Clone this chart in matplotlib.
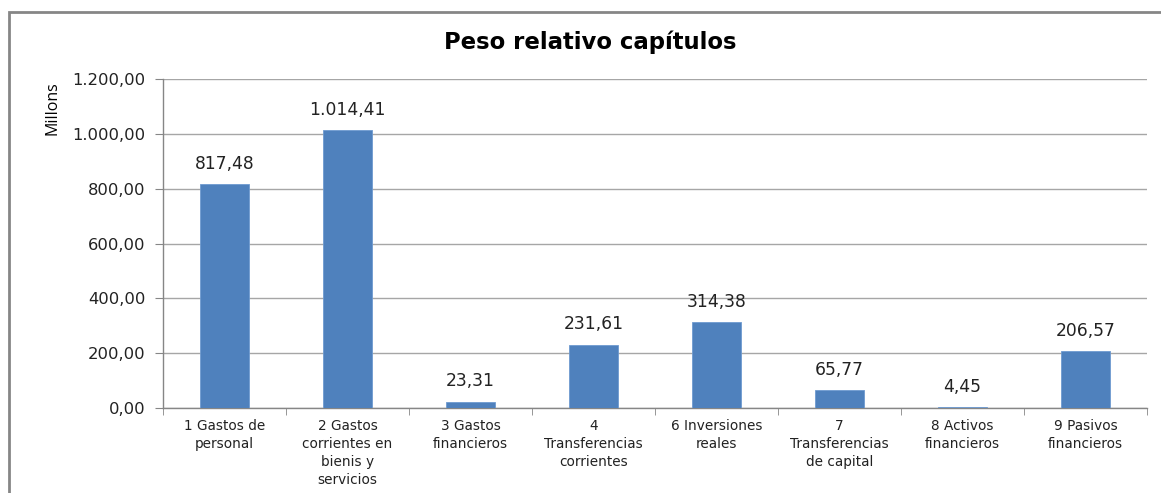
import matplotlib
matplotlib.use("Agg")
import matplotlib.pyplot as plt
from matplotlib.patches import Rectangle

categories = ["1 Gastos de\npersonal", "2 Gastos\ncorrientes en\nbienis y\nservicios",
              "3 Gastos\nfinancieros", "4\nTransferencias\ncorrientes",
              "6 Inversiones\nreales", "7\nTransferencias\nde capital",
              "8 Activos\nfinancieros", "9 Pasivos\nfinancieros"]
values = [817.48, 1014.41, 23.31, 231.61, 314.38, 65.77, 4.45, 206.57]
yticks = [0, 200, 400, 600, 800, 1000, 1200]

def fmt(v):
    s = f"{v:,.2f}"
    return s.replace(",", "X").replace(".", ",").replace("X", ".")

plt.rcParams['font.family'] = ['DejaVu Sans']

W, H = 1161, 493
fig = plt.figure(figsize=(W/100, H/100), dpi=100)
fig.patch.set_facecolor("white")

left, right, top, bottom = 163, 1147, 79, 408
ax = fig.add_axes([left/W, 1-bottom/H, (right-left)/W, (bottom-top)/H])

x = list(range(len(values)))
ax.bar(x, values, width=0.4, color="#4F81BD", edgecolor="#6F9BD0", linewidth=0.6, zorder=3)
ax.set_xlim(-0.5, len(values)-0.5)
ax.set_ylim(0, 1200)
ax.set_yticks(yticks)
ax.set_yticklabels([fmt(v) for v in yticks], fontsize=11.8, color="#222222")
ax.yaxis.grid(True, color="#A6A6A6", linewidth=1.0, zorder=0)
ax.set_axisbelow(True)

ax.set_xticks(x)
ax.set_xticklabels(categories, fontsize=9.8, color="#222222", linespacing=1.35)
ax.tick_params(axis="x", length=0, pad=8)
ax.set_xticks([i + 0.5 for i in range(-1, len(values))], minor=True)
ax.tick_params(axis="x", which="minor", length=5, color="#868686")
ax.tick_params(axis="y", length=5.5, color="#868686", pad=7)

for s in ["top", "right"]:
    ax.spines[s].set_visible(False)
for s in ["left", "bottom"]:
    ax.spines[s].set_color("#868686")
    ax.spines[s].set_linewidth(1.0)

for xi, v in zip(x, values):
    ax.annotate(fmt(v), (xi, v), xytext=(0, 8), textcoords="offset points",
                ha="center", va="bottom", fontsize=12.3, color="#222222")

fig.text(590/W, 1-42/H, "Peso relativo capítulos", ha="center", va="center",
         fontsize=16.4, fontweight="bold", color="black")
fig.text(52/W, 1-108/H, "Millons", rotation=90, ha="center", va="center",
         fontsize=11.5, color="black", family="Open Sans")

fig.add_artist(Rectangle((9/W, -0.1), 1.2, 1 - 12/H + 0.1, transform=fig.transFigure,
                         fill=False, edgecolor="#868686", linewidth=2))

fig.savefig("out.png", dpi=100)
